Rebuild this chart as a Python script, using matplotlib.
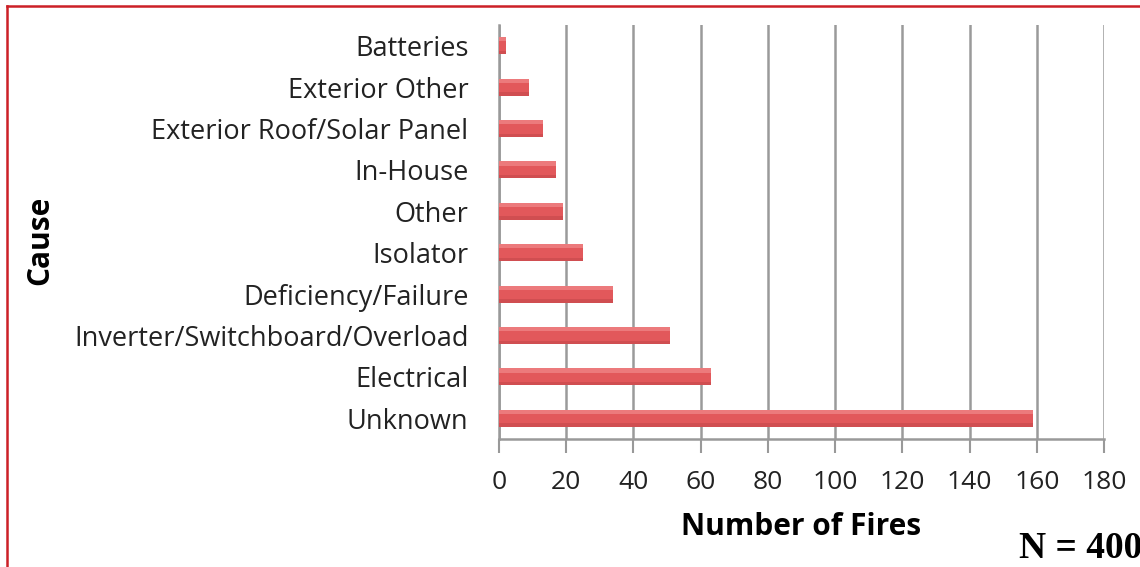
import matplotlib
matplotlib.use("Agg")
import matplotlib.pyplot as plt
from matplotlib.lines import Line2D

categories = ["Unknown", "Electrical", "Inverter/Switchboard/Overload",
              "Deficiency/Failure", "Isolator", "Other", "In-House",
              "Exterior Roof/Solar Panel", "Exterior Other", "Batteries"]
fires = [159, 63, 51, 34, 25, 19, 17, 13, 9, 2]
x_ticks = [0, 20, 40, 60, 80, 100, 120, 140, 160, 180]

plt.rcParams['font.family'] = ['Open Sans', 'DejaVu Sans']

fig = plt.figure(figsize=(11.4, 5.67), dpi=100)
ax = fig.add_axes([499/1140, 1 - 439/567, (1104-499)/1140, (439-25)/567])

ypos = list(range(len(categories)))
bh = 0.41
ax.barh(ypos, fires, height=bh, color='#E2585B', edgecolor='none', zorder=3)
# shading: light top edge, darker bottom edge
ax.barh([y + bh/2 - 0.05 for y in ypos], fires, height=0.10, color='#EC7A7C',
        edgecolor='none', zorder=4)
ax.barh([y - bh/2 + 0.04 for y in ypos], fires, height=0.08, color='#D04E51',
        edgecolor='none', zorder=4)

ax.set_xlim(0, 180)
ax.set_ylim(-0.5, 9.5)
ax.set_xticks(x_ticks)
ax.set_xticklabels([str(v) for v in x_ticks], fontsize=19, color='#222222')
ax.set_yticks(ypos)
ax.set_yticklabels(categories, fontsize=19.5, color='#222222')
ax.tick_params(axis='y', length=0, pad=22)
ax.tick_params(axis='x', length=10, width=1.5, color='#999999', pad=12, direction='out')

ax.grid(axis='x', color='#9a9a9a', linewidth=1.8, zorder=0)
for s in ['top', 'right']:
    ax.spines[s].set_visible(False)
ax.spines['left'].set_color('#999999')
ax.spines['left'].set_linewidth(1.8)
ax.spines['bottom'].set_color('#999999')
ax.spines['bottom'].set_linewidth(1.8)

fig.text(40/1140, 1 - 240/567, "Cause", rotation=90, fontsize=21.5, fontweight='bold',
         ha='center', va='center')
fig.text(801/1140, 1 - 527/567, "Number of Fires", fontsize=21.5, fontweight='bold',
         ha='center', va='center')
fig.text(1142/1140, 1 - 548/567, "N = 400", fontsize=27, fontweight='bold',
         family='Liberation Serif', ha='right', va='center')

# red frame (top and left edges)
fig.add_artist(Line2D([7/1140, 1], [1 - 6/567, 1 - 6/567], color='#CC2027', linewidth=1.8,
                      transform=fig.transFigure))
fig.add_artist(Line2D([7/1140, 7/1140], [0, 1 - 6/567], color='#CC2027', linewidth=1.8,
                      transform=fig.transFigure))

fig.savefig("out.png", dpi=100, facecolor='white')
